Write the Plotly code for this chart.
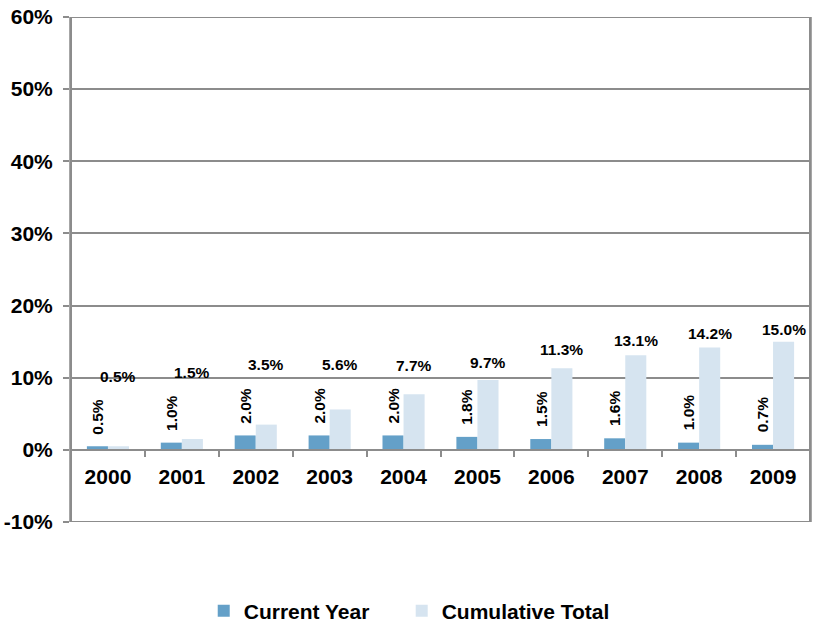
import plotly.graph_objects as go

years = ["2000", "2001", "2002", "2003", "2004", "2005", "2006", "2007", "2008", "2009"]
current_year = [0.5, 1.0, 2.0, 2.0, 2.0, 1.8, 1.5, 1.6, 1.0, 0.7]
cumulative_total = [0.5, 1.5, 3.5, 5.6, 7.7, 9.7, 11.3, 13.1, 14.2, 15.0]
y_ticks = [-10, 0, 10, 20, 30, 40, 50, 60]
y_tick_labels = [f"{v}%" for v in y_ticks]

# label styling (pixel lifts above bar tops, as placed in the original)
cum_label_lift_px = [70, 67, 60, 45, 29, 17, 19, 15, 14, 12]
cur_label_gap_px = 10

FONT = "Liberation Sans, Arial, sans-serif"
C_CUR = "#64a0c8"
C_CUM = "#d6e4f0"
GRID = "#8c8c8c"

fig = go.Figure()
fig.add_trace(go.Bar(x=years, y=current_year, name="Current Year", legend="legend",
                     marker=dict(color=C_CUR, line=dict(width=0))))
fig.add_trace(go.Bar(x=years, y=cumulative_total, name="Cumulative Total", legend="legend2",
                     marker=dict(color=C_CUM, line=dict(width=0))))

ann = []
bar_off = 10.5
lab_font = dict(family=FONT, size=15.5, color="black", weight="bold")
for i, (yr, c, t) in enumerate(zip(years, current_year, cumulative_total)):
    ann.append(dict(x=i, y=c, xref="x", yref="y", text=f"{c:.1f}%", showarrow=False,
                    textangle=-90, yanchor="bottom", xanchor="center",
                    xshift=-bar_off, yshift=cur_label_gap_px, font=lab_font))
    ann.append(dict(x=i, y=t, xref="x", yref="y", text=f"{t:.1f}%", showarrow=False,
                    yanchor="middle", xanchor="center",
                    xshift=bar_off, yshift=cum_label_lift_px[i], font=lab_font))

leg_font = dict(family=FONT, size=21, color="black", weight="bold")
fig.update_layout(
    width=813, height=622,
    margin=dict(l=71, r=3, t=17, b=100, pad=0),
    paper_bgcolor="white", plot_bgcolor="white",
    barmode="group", bargap=0.43, bargroupgap=0,
    font=dict(family=FONT, size=20, color="black", weight="bold"),
    showlegend=True,
    legend=dict(orientation="h", x=0.1796, xanchor="left", xref="paper",
                y=0.0177, yanchor="middle", yref="container", font=leg_font),
    legend2=dict(orientation="h", x=0.4475, xanchor="left", xref="paper",
                 y=0.0177, yanchor="middle", yref="container", font=leg_font),
    annotations=ann,
    shapes=[dict(type="rect", xref="paper", yref="y", x0=0, x1=1, y0=-10, y1=60,
                 line=dict(color=GRID, width=2), fillcolor="rgba(0,0,0,0)", layer="above")],
    xaxis=dict(type="category", anchor="free", position=1/7, automargin=False,
               showline=True, linecolor=GRID, linewidth=2,
               ticks="outside", tickson="boundaries", ticklen=6, tickcolor=GRID, tickwidth=2,
               ticklabelstandoff=8, showgrid=False,
               tickfont=dict(family=FONT, size=21, color="black", weight="bold")),
    yaxis=dict(range=[-10, 60], tickvals=y_ticks, ticktext=y_tick_labels, automargin=False,
               showgrid=True, gridcolor=GRID, gridwidth=2, zeroline=False,
               showline=True, linecolor="#a6a6a6", linewidth=2, mirror=True,
               ticks="outside", ticklen=6, tickcolor=GRID, tickwidth=2,
               ticklabelstandoff=6,
               tickfont=dict(family=FONT, size=21, color="black", weight="bold")),
)

fig.write_html("out.html", config={"displayModeBar": False},
               post_script="document.body.style.margin='0';document.body.style.overflow='hidden';")
